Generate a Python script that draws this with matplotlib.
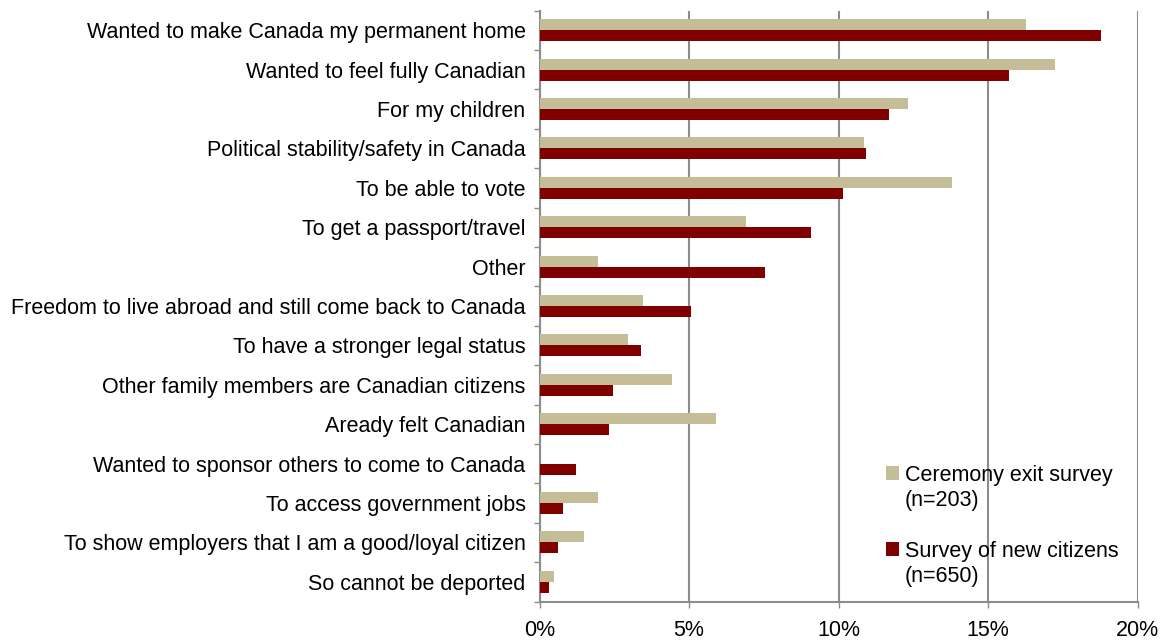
import matplotlib
matplotlib.use("Agg")
import matplotlib.pyplot as plt
from matplotlib.patches import Patch
from matplotlib.ticker import FixedLocator, PercentFormatter
import numpy as np

categories = [
    "Wanted to make Canada my permanent home",
    "Wanted to feel fully Canadian",
    "For my children",
    "Political stability/safety in Canada",
    "To be able to vote",
    "To get a passport/travel",
    "Other",
    "Freedom to live abroad and still come back to Canada",
    "To have a stronger legal status",
    "Other family members are Canadian citizens",
    "Aready felt Canadian",
    "Wanted to sponsor others to come to Canada",
    "To access government jobs",
    "To show employers that I am a good/loyal citizen",
    "So cannot be deported",
]
ceremony = [16.26, 17.24, 12.32, 10.84, 13.79, 6.90, 1.97, 3.45, 2.96, 4.43, 5.91, 0.0, 1.97, 1.48, 0.49]
new_citizens = [18.77, 15.69, 11.69, 10.92, 10.15, 9.08, 7.54, 5.08, 3.38, 2.46, 2.31, 1.23, 0.77, 0.62, 0.31]
series_labels = ["Ceremony exit survey", "(n=203)", "Survey of new citizens", "(n=650)"]
x_ticks = [0, 5, 10, 15, 20]

TAN = "#C4BD97"
RED = "#800000"
GRID = "#8C8C8C"
FS = 15.5

plt.rcParams["font.family"] = ["Liberation Sans", "DejaVu Sans"]
fig = plt.figure(figsize=(11.68, 6.4), dpi=100)
ax = fig.add_axes([539.5 / 1168, 1 - 601.5 / 640, 598 / 1168, 591 / 640])

y = np.arange(len(categories))
h = 0.28
ax.barh(y - h / 2, ceremony, height=h, color=TAN, zorder=3)
ax.barh(y + h / 2, new_citizens, height=h, color=RED, zorder=3)

ax.set_ylim(len(categories) - 0.5, -0.5)
ax.set_xlim(0, 20)
ax.xaxis.set_major_locator(FixedLocator(x_ticks))
ax.xaxis.set_major_formatter(PercentFormatter(decimals=0))
ax.set_yticks(y)
ax.set_yticklabels(categories, fontsize=FS, color="#000000")
ax.yaxis.set_minor_locator(FixedLocator(np.arange(-0.5, len(categories), 1)))
ax.tick_params(axis="y", which="major", length=0, pad=10)
ax.tick_params(axis="y", which="minor", length=4, color=GRID, width=1)
ax.tick_params(axis="x", which="major", length=4, color=GRID, width=1, labelsize=FS, pad=9, direction="out")

for s in ["top", "right"]:
    ax.spines[s].set_visible(False)
for s in ["left", "bottom"]:
    ax.spines[s].set_color(GRID)
    ax.spines[s].set_linewidth(1.5)
ax.grid(axis="x", color=GRID, linewidth=1.5, zorder=1)
ax.set_axisbelow(True)

invis = Patch(facecolor="none", edgecolor="none")
handles = [Patch(facecolor=TAN), invis, invis, Patch(facecolor=RED), invis]
labels = [series_labels[0], series_labels[1], " ", series_labels[2], series_labels[3]]
leg = ax.legend(handles, labels, loc="upper left", bbox_to_anchor=(886 / 1168, 1 - 465 / 640),
                bbox_transform=fig.transFigure, frameon=False, fontsize=FS,
                handlelength=0.62, handleheight=0.62, handletextpad=0.25, labelspacing=0.2,
                borderpad=0, borderaxespad=0)

fig.savefig("out.png", dpi=100)
